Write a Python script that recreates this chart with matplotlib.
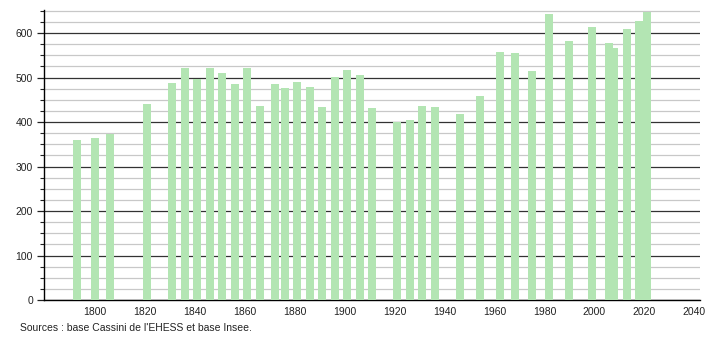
import matplotlib
matplotlib.use("Agg")
import matplotlib.pyplot as plt
from matplotlib.ticker import MultipleLocator

years = [1793, 1800, 1806, 1821, 1831, 1836, 1841, 1846, 1851, 1856,
         1861, 1866, 1872, 1876, 1881, 1886, 1891, 1896, 1901, 1906,
         1911, 1921, 1926, 1931, 1936, 1946, 1954, 1962, 1968, 1975,
         1982, 1990, 1999, 2006, 2008, 2013, 2018, 2021]
population = [360, 364, 373, 441, 488, 522, 497, 522, 511, 486,
              522, 436, 486, 477, 490, 479, 434, 502, 517, 506,
              432, 400, 405, 436, 434, 418, 459, 558, 556, 515,
              643, 583, 614, 578, 567, 610, 628, 648]
xticks = [1800, 1820, 1840, 1860, 1880, 1900, 1920, 1940, 1960, 1980, 2000, 2020, 2040]
yticks = [0, 100, 200, 300, 400, 500, 600]
source_text = "Sources : base Cassini de l'EHESS et base Insee."

plt.rcParams['font.family'] = ['Liberation Sans', 'DejaVu Sans']

fig = plt.figure(figsize=(7.1, 3.4), dpi=100)
ax = fig.add_axes([0.062, 0.1176, 0.924, 0.853])

ax.bar(years, population, width=3.2, color='#b3e5b3', zorder=3, linewidth=0)

ax.set_xlim(1779.6, 2042.3)
ax.set_ylim(0, 652)
ax.set_xticks(xticks)
ax.set_yticks(yticks)
ax.yaxis.set_minor_locator(MultipleLocator(25))
ax.grid(axis='y', which='major', color='#333333', linewidth=0.9, zorder=1)
ax.grid(axis='y', which='minor', color='#c8c8c8', linewidth=0.9, zorder=1)
ax.grid(axis='x', visible=False)

for s in ['top', 'right']:
    ax.spines[s].set_visible(False)
ax.spines['left'].set_color('black')
ax.spines['bottom'].set_color('black')
ax.spines['left'].set_linewidth(1.0)
ax.spines['bottom'].set_linewidth(1.0)

ax.tick_params(axis='x', length=0, labelsize=7.5, pad=5, colors='#222222')
ax.tick_params(axis='y', which='major', length=5, width=0.9, labelsize=7.5, pad=3, colors='#222222')
ax.tick_params(axis='y', which='minor', length=3, width=0.8, colors='#222222')

fig.text(20 / 710, 1 - 328 / 340, source_text, fontsize=7.5, color='#222222',
         ha='left', va='center')

fig.savefig('out.png', dpi=100)
